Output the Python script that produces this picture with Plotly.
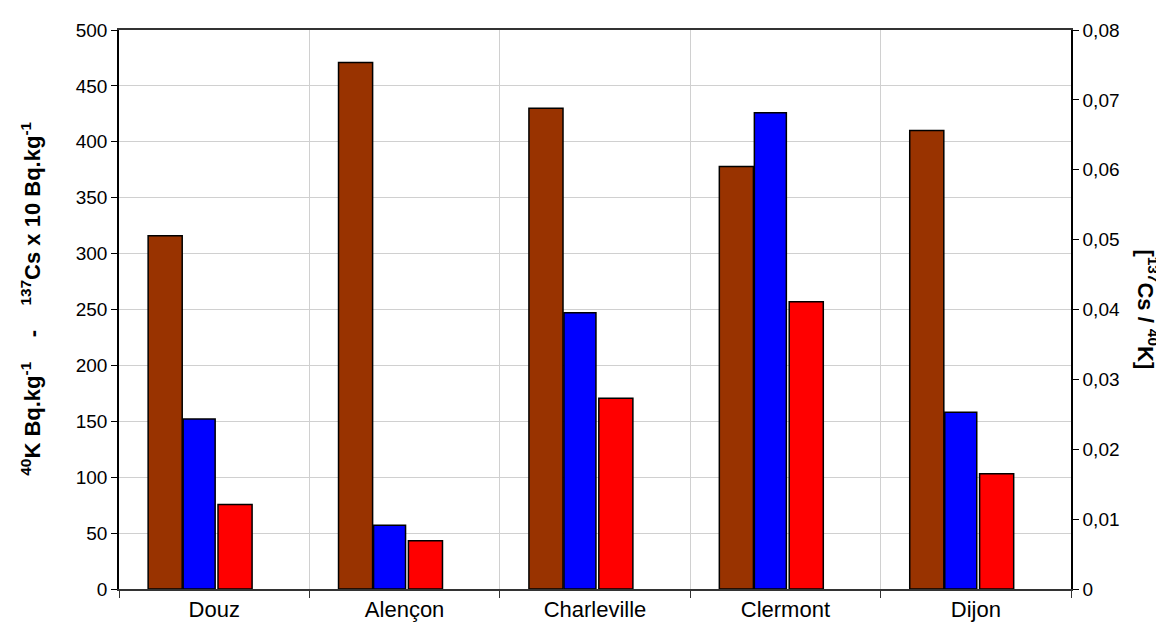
import plotly.graph_objects as go

sites = ["Douz", "Alençon", "Charleville", "Clermont", "Dijon"]
k40 = [316, 471, 430, 378, 410]
cs137_x10 = [152, 57, 247, 426, 158]
ratio = [0.0121, 0.0069, 0.0273, 0.0411, 0.0165]

font = "Liberation Sans, Arial, sans-serif"
line = dict(color="black", width=1.5)

fig = go.Figure()
fig.add_trace(go.Bar(x=sites, y=k40, marker=dict(color="#993300", line=line),
                     width=0.179, offset=-0.347, name="40K"))
fig.add_trace(go.Bar(x=sites, y=cs137_x10, marker=dict(color="#0000FF", line=line),
                     width=0.168, offset=-0.163, name="137Cs x10"))
fig.add_trace(go.Bar(x=sites, y=ratio, marker=dict(color="#FF0000", line=line),
                     width=0.179, offset=0.02, name="ratio", yaxis="y2"))

fig.update_layout(
    width=1156, height=631,
    margin=dict(l=111, r=93, t=17, b=50),
    plot_bgcolor="white", paper_bgcolor="white",
    showlegend=False,
    font=dict(family=font, size=19, color="black"),
    xaxis=dict(
        type="category", tickson="boundaries", showgrid=True,
        gridcolor="#d0d0d0", gridwidth=1,
        showline=True, linecolor="#333333", linewidth=1.5, mirror=True,
        ticks="outside", ticklen=7, tickcolor="#333333",
        tickfont=dict(size=22), range=[-0.5, 4.5],
    ),
    yaxis=dict(
        range=[0, 500], dtick=50, showgrid=True, gridcolor="#d0d0d0",
        showline=True, linecolor="black", linewidth=1.5,
        ticks="outside", ticklen=6, tickcolor="black",
        tickfont=dict(size=19), zeroline=False,
    ),
    yaxis2=dict(
        range=[0, 0.08], overlaying="y", side="right",
        showgrid=False, showline=True, linecolor="black", linewidth=1.5,
        ticks="outside", ticklen=6, tickcolor="black",
        tickfont=dict(size=19), zeroline=False,
        tickvals=[0, 0.01, 0.02, 0.03, 0.04, 0.05, 0.06, 0.07, 0.08],
        ticktext=["0", "0,01", "0,02", "0,03", "0,04", "0,05", "0,06", "0,07", "0,08"],
    ),
    annotations=[
        dict(
            text="<b><sup>40</sup>K Bq.kg<sup>-1</sup>    -    <sup>137</sup>Cs x 10 Bq.kg<sup>-1</sup></b>",
            textangle=-90, xref="paper", yref="paper", x=-0.092, y=0.52,
            xanchor="center", yanchor="middle", showarrow=False, font=dict(size=22),
        ),
        dict(
            text="<b>[<sup>137</sup>Cs / <sup>40</sup>K]</b>", textangle=90,
            xref="paper", yref="paper", x=1.081, y=0.5, xanchor="center", yanchor="middle",
            showarrow=False, font=dict(size=22),
        ),
    ],
)

fig.write_html("out.html")
